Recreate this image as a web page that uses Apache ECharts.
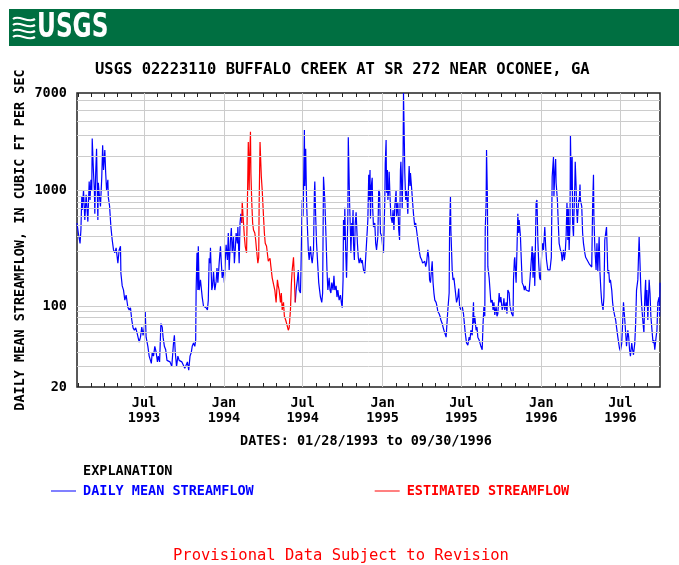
<!DOCTYPE html>
<html>
<head>
<meta charset="UTF-8">
<title>USGS 02223110 Buffalo Creek</title>
<style>
  * { margin: 0; padding: 0; }
  body { background: #fff; }
  #main { width: 679px; height: 565px; }
</style>
<script src="https://cdn.jsdelivr.net/npm/echarts@6/dist/echarts.min.js"></script>
</head>
<body>
<div id="main"></div>
<script>
// record starts 01/28/1993, day numbers are counted from that date
var recordStart = '1993-01-28';
var recordEnd = '1996-09-30';

// daily mean streamflow (blue), null marks the estimated period
var blueDays = [0,3,7,9,11,12,15,18,21,25,28,30,32,34,35,38,40,41,43,45,48,49,51,54,57,59,61,64,66,68,
  71,72,75,78,81,84,87,90,94,97,100,101,104,107,110,113,117,120,123,126,129,132,135,138,143,146,149,152,155,157,
  159,163,166,169,171,173,176,179,182,185,187,190,193,196,198,201,204,207,210,
  214,218,222,224,226,229,232,235,238,241,245,248,251,254,257,260,263,265,268,271,
  273,274,276,278,279,281,284,288,291,294,297,300,302,304,306,307,310,312,314,317,
  320,322,324,327,330,332,334,337,339,341,343,346,348,350,353,355,357,360,362,364,
  366,369,370,373,375,377,379,
  440,
  502,504,507,509,511,514,515,517,518,520,521,523,524,526,528,530,532,534,537,539,541,544,546,547,549,551,554,556,558,560,
  563,565,567,569,570,573,575,577,580,582,584,586,589,591,593,596,598,600,603,606,608,610,612,613,615,616,618,620,623,624,
  626,627,629,630,632,633,635,636,638,640,642,645,647,649,652,654,656,659,
  662,666,669,671,672,674,675,677,679,680,682,685,687,689,692,694,696,698,701,703,705,708,709,711,712,714,715,717,718,720,
  722,725,727,729,731,734,735,738,740,742,744,745,747,748,750,751,753,754,756,758,761,763,764,766,767,770,772,774,777,779,
  781,784,786,788,790,793,795,797,800,802,804,807,809,811,813,816,817,819,821,823,826,828,830,833,835,837,840,842,844,846,
  849,851,853,856,857,859,860,863,865,867,
  869,873,876,878,880,883,886,889,891,893,896,899,902,904,906,909,912,913,915,918,920,922,925,927,929,932,934,936,938,939,
  941,942,944,945,948,950,952,955,957,959,961,964,966,968,971,973,975,978,980,982,984,987,989,991,994,996,998,1000,1003,1004,
  1006,1007,1010,1012,1014,1016,1017,1020,1022,1024,1027,1029,1031,1033,1037,1040,1042,1044,1047,1049,1051,1053,1056,1058,1060,1062,1064,1066,1069,1071,
  1073,1076,1078,1080,1083,1086,
  1088,1091,1093,1096,1097,1099,1101,1102,1105,1107,1109,1112,1114,1116,1119,1121,1123,1125,1127,1129,1130,1132,1134,1135,1137,1139,1140,1142,1143,1145,
  1146,1148,1149,1151,1152,1154,1155,1157,1158,1161,1163,1165,1168,1170,1172,1175,1177,1179,1181,1184,1186,1188,1189,1191,1194,1196,1198,1201,1203,1205,
  1207,1210,1212,1214,1217,1218,1221,1223,1225,1227,1230,1232,1234,1237,1239,1241,1244,1246,1248,1250,1253,1255,1257,1260,1262,1264,1267,1269,1271,1273,
  1276,1278,1280,1283,1285,1287,1290,1292,1293,1295,1297,1299,1302,1304,1306,1308,1309,1311,1313,1316,1318,1320,1322,1325,1327,1329,1332,1334,1336,1339,
  1340,1341];
var blueFlow = [525,430,350,457,880,680,1014,557,920,540,1200,830,1240,1014,2830,1420,1014,630,1420,2300,557,1170,950,730,1320,2470,1510,2250,1420,1014,
  1240,880,730,485,374,307,290,320,236,307,330,193,150,138,113,125,98,93,97,76,65,62,65,59,49,54,66,56,66,90,
  54,45,37,34,32,40,37,45,40,33,37,33,71,66,54,45,42,34,33,
  33,30,48,56,40,30,37,34,34,33,32,29,28,33,28,37,40,45,48,45,
  51,138,290,138,330,138,169,120,100,102,97,93,113,260,236,320,138,150,200,138,
  164,214,160,236,330,236,176,206,160,251,340,251,430,206,374,475,290,400,236,307,
  430,350,485,236,525,630,525,
  null,
  108,138,169,206,138,130,193,525,830,600,960,3350,1100,2300,830,485,307,251,330,265,236,307,960,1200,600,350,220,160,138,120,
  108,130,1320,1350,830,374,206,138,176,138,130,160,138,183,138,150,120,138,113,125,108,97,169,557,374,710,307,176,600,2900,
  1240,790,430,290,525,400,680,350,251,525,650,350,265,236,262,236,251,206,
  193,200,557,1370,830,1510,575,1100,1290,730,485,525,350,307,400,1014,960,430,400,330,290,830,1720,2740,960,1510,830,1014,1460,880,
  600,525,680,457,730,1014,600,790,457,374,1510,1780,1014,700,1960,7000,2570,1420,830,1014,630,1320,1630,1100,1420,1014,790,630,485,525,
  457,374,330,290,265,251,236,230,245,220,236,307,265,169,160,220,245,160,130,113,108,100,90,86,82,76,71,66,62,60,
  54,56,93,130,457,880,457,206,169,176,
  176,108,120,142,100,93,100,86,71,59,48,46,54,51,62,56,108,71,82,62,66,54,51,48,45,42,71,100,82,457,
  790,2250,880,220,176,138,108,113,93,108,84,100,82,86,130,108,120,93,100,117,93,108,86,138,130,100,93,86,82,169,
  251,265,160,307,630,430,557,400,251,160,150,138,150,138,138,134,138,220,330,176,290,150,790,830,374,236,176,169,290,350,
  307,485,330,251,206,200,
  206,265,1320,1960,880,1420,1880,1170,830,525,350,307,290,245,307,251,290,400,790,374,710,307,525,3020,1014,1960,525,400,600,1100,
  1780,1100,730,525,630,830,790,1130,830,730,430,350,290,265,265,245,236,230,236,218,730,1370,600,330,206,350,200,400,193,138,
  108,93,120,374,457,485,193,206,160,169,138,108,93,82,76,66,54,48,43,41,48,71,108,76,59,45,62,54,42,37,
  48,42,38,48,71,138,169,307,400,236,138,100,71,59,120,169,100,138,76,169,130,82,66,48,51,42,54,62,108,120,
  82,160];

// estimated streamflow (red)
var redDays = [379,380,383,385,387,390,392,394,396,397,399,400,402,404,406,409,411,413,416,418,
  419,421,422,424,426,429,431,433,436,440,444,446,449,452,455,458,461,463,465,468,
  470,472,475,477,480,483,486,488,491,493,495,498,500,502];
var redFlow = [525,800,525,400,330,290,790,2640,1014,1840,3230,1420,790,525,457,430,374,307,236,265,
  790,2640,2740,1320,1014,600,430,350,330,245,260,220,176,155,138,108,169,150,138,108,
  130,93,108,82,76,69,62,65,93,155,206,265,176,108];

var yGridValues = [30,40,50,60,70,80,90,100,200,300,400,500,600,700,800,900,1000,2000,3000,4000,5000,6000];
var xGridDates = ['1993-07-01','1994-01-01','1994-07-01','1995-01-01','1995-07-01','1996-01-01','1996-07-01'];
var monthNames = ['Jan','Feb','Mar','Apr','May','Jun','Jul','Aug','Sep','Oct','Nov','Dec'];

var DAY = 86400000;
function utc(s) { var p = s.split('-'); return Date.UTC(+p[0], +p[1] - 1, +p[2]); }
var t0 = utc(recordStart), t1 = utc(recordEnd);
function pairs(days, flow) {
  return days.map(function (d, i) { return [t0 + d * DAY, flow[i]]; });
}
var monthTicks = [];
for (var y = 1993; y <= 1996; y++) {
  for (var m = 0; m < 12; m++) {
    var t = Date.UTC(y, m, 1);
    if (t >= t0 && t <= t1) monthTicks.push(t);
  }
}
var labelTicks = xGridDates.map(utc);

var mono = 'DejaVu Sans Mono';
var gridLine = { color: '#cccccc', width: 1, type: 'solid' };

// small white waves of the logo
function wave(top) {
  return {
    type: 'bezierCurve', silent: true,
    shape: { x1: 13, y1: top, cpx1: 19, cpy1: top - 5, cpx2: 28, cpy2: top + 5, x2: 35, y2: top },
    style: { stroke: '#fff', fill: null, lineWidth: 2.2 }
  };
}

var chart = echarts.init(document.getElementById('main'), null, { renderer: 'canvas' });
var option = {
  animation: false,
  backgroundColor: '#fff',
  title: [{
    text: 'USGS 02223110 BUFFALO CREEK AT SR 272 NEAR OCONEE, GA',
    left: 95, top: 62, padding: 0,
    textStyle: { fontFamily: mono, fontWeight: 'bold', fontSize: 15.5, color: '#000' }
  }, {
    text: 'DATES: 01/28/1993 to 09/30/1996',
    left: 240, top: 434, padding: 0,
    textStyle: { fontFamily: mono, fontWeight: 'bold', fontSize: 13.5, color: '#000' }
  }, {
    text: 'EXPLANATION',
    left: 83, top: 464, padding: 0,
    textStyle: { fontFamily: mono, fontWeight: 'bold', fontSize: 13.5, color: '#000' }
  }, {
    text: 'Provisional Data Subject to Revision',
    left: 173, top: 548, padding: 0,
    textStyle: { fontFamily: mono, fontWeight: 'normal', fontSize: 15.5, color: '#ff0000' }
  }],
  graphic: [
    { type: 'rect', silent: true, shape: { x: 9, y: 9, width: 670, height: 37 }, style: { fill: '#006f41' } },
    wave(19), wave(25), wave(31), wave(37),
    { type: 'text', silent: true, x: 37, y: 11, scaleX: 0.76,
      style: { text: 'USGS', fill: '#fff', font: 'bold 34px "DejaVu Sans Condensed", "DejaVu Sans"' } }
  ],
  legend: {
    left: 51, top: 484, itemWidth: 25, itemHeight: 1, itemGap: 121, padding: 0, icon: 'rect',
    data: [
      { name: 'DAILY MEAN STREAMFLOW', textStyle: { color: '#0000ff' } },
      { name: 'ESTIMATED STREAMFLOW', textStyle: { color: '#ff0000' } }
    ],
    textStyle: { fontFamily: mono, fontWeight: 'bold', fontSize: 13.5, padding: [0, 0, 0, 2] }
  },
  grid: {
    left: 77, right: 19, top: 93, bottom: 178, outerBoundsMode: 'none', containLabel: false,
    show: true, borderColor: '#222', borderWidth: 1.5, backgroundColor: 'transparent'
  },
  xAxis: [{
    type: 'value', min: t0, max: t1,
    axisLine: { show: false },
    splitLine: { show: false },
    axisTick: { show: true, inside: true, length: 4, lineStyle: { color: '#222' }, customValues: monthTicks },
    axisLabel: {
      customValues: labelTicks, margin: 9, lineHeight: 15, color: '#000',
      fontFamily: mono, fontWeight: 'bold', fontSize: 13.5,
      formatter: function (v) { var d = new Date(v); return monthNames[d.getUTCMonth()] + '\n' + d.getUTCFullYear(); }
    }
  }, {
    type: 'value', min: t0, max: t1, position: 'top',
    axisLine: { show: false }, splitLine: { show: false }, axisLabel: { show: false },
    axisTick: { show: true, inside: true, length: 4, lineStyle: { color: '#222' }, customValues: monthTicks }
  }],
  yAxis: {
    type: 'log', logBase: 10, min: 20, max: 7000,
    name: 'DAILY MEAN STREAMFLOW, IN CUBIC FT PER SEC',
    nameLocation: 'middle', nameGap: 50, nameRotate: 90, nameMoveOverlap: false,
    nameTextStyle: { fontFamily: mono, fontWeight: 'bold', fontSize: 13.5, color: '#000' },
    axisLine: { show: false }, axisTick: { show: false },
    splitLine: { show: false },
    axisLabel: {
      margin: 10, color: '#000', fontFamily: mono, fontWeight: 'bold', fontSize: 13.5,
      showMinLabel: true, showMaxLabel: true,
      formatter: function (v) { return String(Math.round(v)); }
    }
  },
  series: [{
    name: 'grid', type: 'line', data: [], z: 1, silent: true,
    markLine: {
      silent: true, symbol: 'none', label: { show: false }, lineStyle: gridLine, animation: false,
      data: yGridValues.map(function (v) { return { yAxis: v }; })
        .concat(labelTicks.map(function (t) { return { xAxis: t }; }))
    }
  }, {
    name: 'DAILY MEAN STREAMFLOW', type: 'line', z: 3,
    data: pairs(blueDays, blueFlow), showSymbol: false, symbol: 'none', connectNulls: false,
    lineStyle: { color: '#0000ff', width: 1.2 }, itemStyle: { color: '#0000ff' }
  }, {
    name: 'ESTIMATED STREAMFLOW', type: 'line', z: 3,
    data: pairs(redDays, redFlow), showSymbol: false, symbol: 'none',
    lineStyle: { color: '#ff0000', width: 1.2 }, itemStyle: { color: '#ff0000' }
  }]
};
chart.setOption(option);
</script>
</body>
</html>
